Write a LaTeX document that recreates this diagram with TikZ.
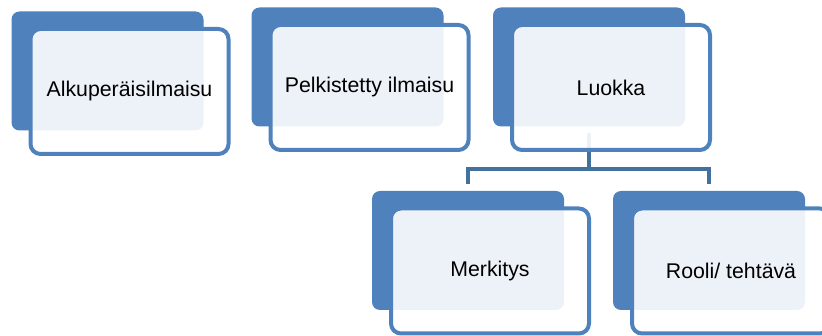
\documentclass[tikz,border=0pt]{standalone}
\usepackage{fontspec}
\setmainfont{Liberation Sans}
\usepackage{xcolor}
\usepackage{tikz}
\usetikzlibrary{positioning,calc}
\definecolor{accent1}{HTML}{4F81BD}
\definecolor{accent1dk}{HTML}{41719C}

\begin{document}
\begin{tikzpicture}[x=1pt,y=1pt,
          every node/.style={font=\fontsize{21.3}{25}\selectfont},
          back/.style={fill=accent1,rounded corners=8pt,
                       minimum width=192pt,minimum height=119pt,inner sep=0pt},
          front/.style={draw=accent1,line width=4pt,fill=white,fill opacity=0.9,
                        text opacity=1,rounded corners=10pt,
                        minimum width=198pt,minimum height=125pt,inner sep=0pt},
          conn/.style={draw=accent1dk,line width=4pt,line join=miter},
      ]
        \clip (0,0) rectangle (822,336);

        \node[back] (alku-back) at (107.5,265) {};
        \node[back] (pelk-back) at (347.5,269) {};
        \node[back] (luokka-back) at (589,269) {};
        \node[back] (merk-back) at (468,85.5) {};
        \node[back] (rooli-back) at (709,85.5) {};

        \draw[conn] ([yshift=-6pt]luokka-back.south) -- ++(0,-36) coordinate (fork);
        \draw[conn] ([yshift=7pt]merk-back.north) |- (fork) -| ([yshift=7pt]rooli-back.north);

        \node[front] (alku) at (129.5,244.5) {Alkuperäisilmaisu};
        \node[front] (pelk) at (369.5,248.5) {Pelkistetty ilmaisu};
        \node[front] (luokka) at (611,248.5) {Luokka};
        \node[front] (merk) at (490,65) {Merkitys};
        \node[front] (rooli) at (731,65) {Rooli/ tehtävä};
      \end{tikzpicture}
\end{document}
